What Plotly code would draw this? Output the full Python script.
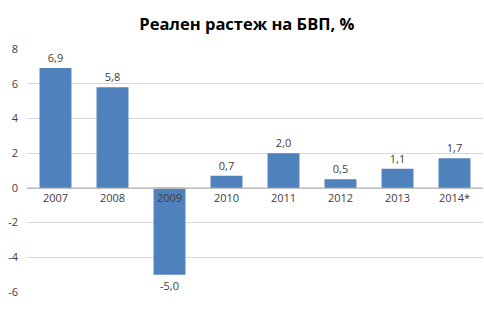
import plotly.graph_objects as go

years = ["2007", "2008", "2009", "2010", "2011", "2012", "2013", "2014*"]
growth = [6.9, 5.8, -5.0, 0.7, 2.0, 0.5, 1.1, 1.7]
y_ticks = [-6, -4, -2, 0, 2, 4, 6, 8]
title = "Реален растеж на БВП, %"

fig = go.Figure(go.Bar(
    x=years, y=growth,
    marker=dict(color="#4F81BD", line=dict(width=0)),
    texttemplate="%{y:.1f}", textposition="outside",
    textfont=dict(family="Open Sans, Calibri, sans-serif", size=11, color="#404040"),
    cliponaxis=False,
))

ymin, ymax = -6, 8
fig.update_layout(
    width=484, height=313,
    margin=dict(l=27, r=1, t=49, b=21),
    paper_bgcolor="white", plot_bgcolor="white",
    separators=", ",
    bargap=0.44,
    showlegend=False,
    title=dict(text="<b>" + title + "</b>", x=0.51, xanchor="center", y=0.922, yanchor="middle",
               font=dict(family="Open Sans, Calibri, sans-serif", size=16.5, color="#000000")),
    font=dict(family="Open Sans, Calibri, sans-serif", size=11, color="#404040"),
    xaxis=dict(
        type="category", anchor="free", position=(0 - ymin) / (ymax - ymin),
        showline=True, linecolor="#BFBFBF", linewidth=1,
        ticks="", showgrid=False, tickfont=dict(size=11, color="#404040"),
    ),
    yaxis=dict(
        range=[ymin, ymax], tickmode="array", tickvals=y_ticks,
        ticktext=[str(v) for v in y_ticks],
        showgrid=True, gridcolor="#D9D9D9", gridwidth=1,
        zeroline=False, ticks="", showline=False, tickfont=dict(size=11, color="#404040"),
        ticklabelstandoff=8,
    ),
)
fig.write_html("out.html")
